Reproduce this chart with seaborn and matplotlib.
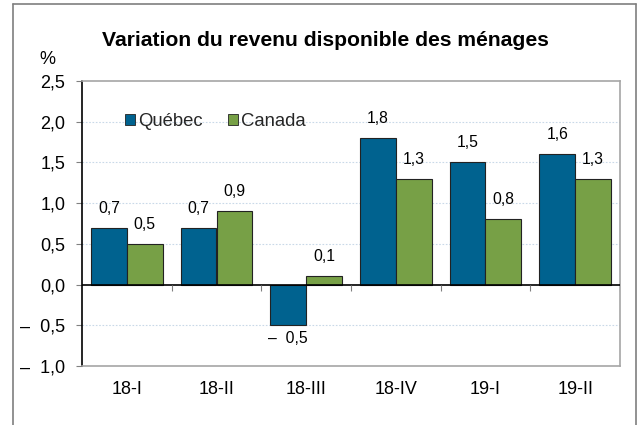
import matplotlib
matplotlib.use("Agg")
import matplotlib.pyplot as plt
import seaborn as sns
import pandas as pd
from matplotlib.lines import Line2D

categories = ["18-I", "18-II", "18-III", "18-IV", "19-I", "19-II"]
quebec = [0.7, 0.7, -0.5, 1.8, 1.5, 1.6]
canada = [0.5, 0.9, 0.1, 1.3, 0.8, 1.3]
series_names = ["Québec", "Canada"]
yticks = [-1.0, -0.5, 0.0, 0.5, 1.0, 1.5, 2.0, 2.5]
title = "Variation du revenu disponible des ménages"

BLUE = "#00628F"
GREEN = "#77A046"

def fmt(v):
    s = f"{abs(v):.1f}".replace(".", ",")
    return ("\u2013  " + s) if v < 0 else s

df = pd.DataFrame({
    "trimestre": categories * 2,
    "variation": quebec + canada,
    "region": [series_names[0]] * len(categories) + [series_names[1]] * len(categories),
})

sns.set_theme(style="white")
plt.rcParams["font.family"] = ["Liberation Sans", "DejaVu Sans"]

fig = plt.figure(figsize=(6.39, 4.25), dpi=100)
ax = fig.add_axes([82 / 639, 1 - 366 / 425, (620 - 82) / 639, (366 - 81) / 425])

sns.barplot(data=df, x="trimestre", y="variation", hue="region",
            palette=[BLUE, GREEN], saturation=1, width=0.8, edgecolor="#222222",
            linewidth=0.8, ax=ax, zorder=3, legend=True)

ax.set_ylim(-1.0, 2.5)
ax.set_xlim(-0.5, len(categories) - 0.5)
ax.set_yticks(yticks)
ax.set_yticklabels([fmt(v) for v in yticks], fontsize=13, color="#000000")
ax.set_xticks(range(len(categories)))
ax.set_xticklabels(categories, fontsize=13, color="#000000")
ax.tick_params(axis="x", length=0, pad=11)
ax.tick_params(axis="y", length=4, width=0.8, color="#808080", left=True, pad=8)
ax.set_xlabel("")
ax.set_ylabel("")

# grid
for v in yticks:
    if v not in (0.0, -1.0, 2.5):
        ax.axhline(v, color="#C9D9E8", lw=0.8, ls=(0, (1.5, 1.5)), zorder=1)

# spines
for side in ["top", "right", "bottom"]:
    ax.spines[side].set_color("#A6A6A6")
    ax.spines[side].set_linewidth(1.2)
    ax.spines[side].set_visible(True)
ax.spines["left"].set_color("#000000")
ax.spines["left"].set_linewidth(1.2)
ax.spines["left"].set_visible(True)

# zero line with boundary ticks
ax.axhline(0, color="#000000", lw=1.2, zorder=4)
bounds = [i + 0.5 for i in range(len(categories))]
ax.vlines(bounds, -0.08, 0, color="#808080", lw=0.8, zorder=4)

# data labels
for cont in ax.containers:
    for b in cont:
        h = b.get_height()
        xc = b.get_x() + b.get_width() / 2
        if h >= 0:
            ax.annotate(fmt(h), (xc, h), xytext=(0, 14), textcoords="offset points",
                        ha="center", va="center", fontsize=11.3, color="#000000")
        else:
            ax.annotate(fmt(h), (xc, h), xytext=(0, -9.5), textcoords="offset points",
                        ha="center", va="center", fontsize=11.3, color="#000000")

# legend
leg = ax.legend(loc="upper left", bbox_to_anchor=(0.066, 0.912), ncol=2, frameon=False,
                fontsize=13.3, handlelength=0.55, handleheight=0.55, handletextpad=0.15,
                columnspacing=1.4, borderaxespad=0)
for h in leg.legend_handles:
    h.set_edgecolor("#222222")
    h.set_linewidth(0.6)

fig.text(325 / 639, 1 - 40 / 425, title, ha="center", va="center",
         fontsize=15.2, fontweight="bold", color="#000000")
fig.text(47 / 639, 1 - 60 / 425, "%", ha="center", va="center", fontsize=13, color="#000000")

# figure border
fig.add_artist(Line2D([13 / 639, 13 / 639], [0, 1 - 4 / 425], transform=fig.transFigure, color="#7F7F7F", lw=1.2))
fig.add_artist(Line2D([13 / 639, 636 / 639], [1 - 4 / 425, 1 - 4 / 425], transform=fig.transFigure, color="#7F7F7F", lw=1.2))
fig.add_artist(Line2D([636 / 639, 636 / 639], [0, 1 - 4 / 425], transform=fig.transFigure, color="#7F7F7F", lw=1.2))

fig.savefig("out.png", dpi=100, facecolor="white")
